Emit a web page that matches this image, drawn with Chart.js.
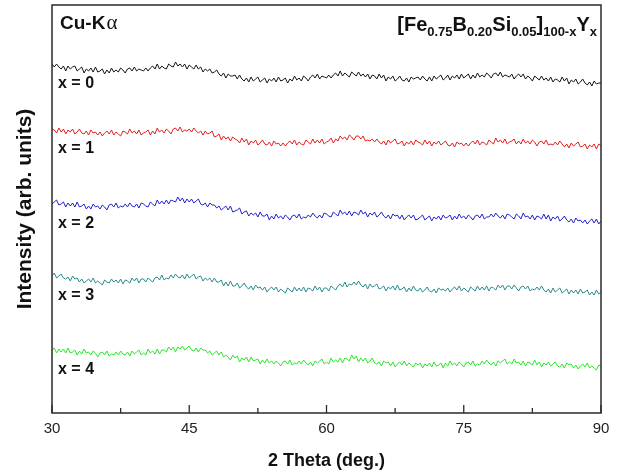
<!DOCTYPE html>
<html>
<head>
<meta charset="utf-8">
<script src="https://cdn.jsdelivr.net/npm/chart.js@4"></script>
<style>
  html, body { margin: 0; padding: 0; background: #fff; }
  #wrap { width: 621px; height: 476px; }
</style>
</head>
<body>
<div id="wrap"><canvas id="xrd"></canvas></div>
<script>
// XRD scans of [Fe0.75B0.20Si0.05]100-x Yx ribbons, Cu-Kα, 2θ = 30..90° in 0.25° steps.
// Intensities are in arbitrary units; each trace sits at its own offset.
const scanStart = 30;
const scanStep = 0.25;
const xTickLabels = ['30', '45', '60', '75', '90'];
const sampleLabels = ['x = 0', 'x = 1', 'x = 2', 'x = 3', 'x = 4'];
const traceColors = ['#151515', '#e41e1e', '#2222cc', '#2a8a8c', '#2ee32e'];

const scanX0 = [
  349,346,349,346, 344,347,342,347,  344,346,347,342, 344,346,340,344,
  342,345,341,346, 341,342,344,339,  343,340,345,341, 343,341,345,343,
  340,344,345,342, 346,342,344,343,  342,345,342,345, 347,344,349,344,
  347,345,344,349, 347,346,351,347,  349,346,349,344, 348,346,344,348,
  344,346,341,344, 342,344,340,341,  343,339,337,340, 335,339,337,337,
  338,334,338,334, 332,335,331,336,  332,334,336,331, 333,335,330,334,
  332,335,331,336, 332,333,335,330,  334,332,337,333, 335,332,337,335,
  332,336,338,335, 339,334,337,336,  335,338,335,338, 340,337,342,337,
  340,338,336,341, 339,337,341,337,  339,336,339,334, 338,337,334,339,
  335,338,332,336, 334,337,332,334,  337,333,332,335, 331,336,334,335,
  336,333,337,334, 332,336,332,337,  334,336,338,333, 335,338,333,337,
  335,338,334,339, 335,337,339,334,  338,335,340,336, 338,336,340,338,
  335,339,340,337, 341,336,338,337,  336,339,334,337, 339,336,339,334,
  337,335,332,337, 335,333,337,333,  335,332,336,331, 334,333,331,336,
  332,335,329,333, 331,334,329,331,  334,330,328,331, 327,332,329,330,
  330
];
const scanX1 = [
  284,283,280,285, 281,284,279,283,  281,284,279,281, 284,280,279,282,
  278,283,280,281, 278,281,277,280,  282,279,283,278, 281,279,277,282,
  281,279,284,280, 282,279,283,278,  280,281,283,278, 282,279,285,281,
  283,280,284,282, 279,284,285,282,  286,281,283,282, 284,281,285,282,
  280,282,278,282, 279,280,282,276,  277,279,273,277, 274,276,272,276,
  274,273,270,275, 271,274,268,272,  270,273,268,270, 273,269,268,271,
  267,272,269,270, 267,270,267,270,  272,269,273,268, 271,269,268,273,
  271,269,274,270, 273,270,274,269,  271,272,275,270, 274,272,277,274,
  276,273,278,276, 273,277,277,274,  277,272,273,272, 274,271,274,271,
  269,272,268,273, 270,272,274,269,  270,272,267,271, 269,272,268,273,
  271,270,268,273, 269,272,267,271,  269,272,268,270, 272,268,267,270,
  266,271,269,270, 267,270,267,270,  272,269,273,268, 271,270,268,273,
  271,269,275,271, 273,270,274,269,  271,272,274,269, 272,269,274,270,
  272,269,273,271, 267,271,272,269,  273,268,269,268, 271,268,272,269,
  266,269,265,270, 267,269,271,266,  267,269,264,268, 266,269,264,269,
  267
];
const scanX2 = [
  209,211,213,208, 209,211,206,210,  207,210,206,211, 206,207,209,204,
  207,204,209,206, 207,204,208,206,  203,208,209,206, 210,205,207,206,
  209,206,210,207, 206,209,205,210,  209,207,206,211, 209,207,213,209,
  212,209,213,209, 213,212,211,216,  212,215,210,214, 211,214,210,212,
  214,209,208,210, 206,210,208,208,  205,207,203,205, 207,203,207,201,
  202,203,205,199, 201,202,197,200,  198,200,196,201, 197,197,199,193,
  197,194,199,195, 197,194,198,196,  193,197,198,195, 199,194,196,195,
  198,196,200,197, 195,198,195,200,  199,197,196,201, 199,197,203,199,
  201,198,202,197, 201,200,198,203,  199,201,196,200, 198,201,196,198,
  201,197,195,198, 194,199,197,198,  194,198,193,196, 198,195,198,193,
  194,196,198,193, 195,197,192,196,  194,197,193,198, 195,196,198,193,
  197,194,199,195, 197,194,198,196,  193,197,198,195, 199,194,196,196,
  199,196,200,197, 195,198,194,199,  198,196,194,199, 197,194,200,196,
  197,194,198,193, 197,196,194,199,  194,198,192,196, 194,197,192,194,
  197,193,191,194, 190,195,192,193,  190,193,189,192, 194,190,194,189,
  192
];
const scanX3 = [
  137,140,135,137, 139,135,134,136,  132,137,134,135, 131,134,130,132,
  134,131,135,130, 132,130,128,133,  131,130,134,131, 133,130,134,129,
  133,132,130,135, 132,135,130,134,  134,131,135,133, 131,135,136,133,
  138,133,135,134, 138,135,139,136,  135,138,134,139, 135,137,139,134,
  136,137,132,135, 133,135,131,135,  131,131,133,127, 131,127,132,127,
  127,130,125,127, 130,126,124,127,  123,128,125,126, 123,126,121,124,
  126,123,126,121, 124,122,120,125,  123,121,126,122, 125,122,126,121,
  125,124,122,127, 123,126,121,125,  125,122,127,125, 123,127,129,126,
  131,126,129,128, 131,128,132,128,  126,129,124,129, 126,127,129,124,
  125,127,122,126, 124,127,123,128,  123,124,126,121, 125,122,127,123,
  122,125,121,123, 126,122,121,124,  120,125,123,124, 122,125,121,124,
  126,123,127,122, 125,123,121,126,  124,122,127,123, 126,123,127,122,
  126,125,123,128, 125,128,123,127,  127,124,128,125, 122,126,127,124,
  127,122,124,123, 126,123,127,123,  121,124,120,125, 121,123,125,120,
  122,124,119,123, 120,123,119,124,  120,121,123,118, 121,118,123,119,
  121
];
const scanX4 = [
  63,65,60,64, 61,64,60,65,  60,61,63,58, 62,59,64,60,
  61,58,62,60, 56,60,61,58,  62,57,59,58, 61,58,62,59,
  58,61,57,62, 59,61,63,58,  60,58,64,60, 62,59,64,59,
  63,63,61,66, 63,66,61,66,  64,67,63,65, 67,63,62,65,
  61,65,63,63, 60,62,58,60,  62,58,61,56, 58,56,53,58,
  55,57,51,55, 53,56,51,56,  52,53,54,49, 53,50,54,50,
  52,49,52,50, 47,51,52,49,  53,48,50,49, 52,49,53,50,
  48,51,47,52, 50,52,54,49,  51,49,55,51, 53,51,55,50,
  55,54,52,58, 54,57,51,55,  52,55,50,52, 55,50,49,51,
  47,52,50,51, 47,51,46,49,  51,48,52,47, 50,48,46,50,
  48,50,45,49, 47,50,46,51,  47,48,50,45, 50,47,52,48,
  50,47,51,49, 46,50,51,48,  52,47,49,48, 52,49,53,50,
  48,51,47,52, 50,52,54,49,  51,49,54,50, 51,48,52,47,
  51,50,48,53, 48,51,46,50,  48,51,47,49, 51,47,46,49,
  45,50,48,49, 45,48,44,47,  49,46,50,45, 47,45,43,48,
  47
];

const scans = [scanX0, scanX1, scanX2, scanX3, scanX4];
const twoTheta = scanX0.map((_, i) => scanStart + i * scanStep);

const FONT = '"Liberation Sans", Arial, Helvetica, sans-serif';

// Frame, inward x ticks, sample tags and the header texts.
const decorPlugin = {
  id: 'decor',
  afterDatasetsDraw(chart) {
    const { ctx, chartArea: a, scales: { x, y } } = chart;
    ctx.save();
    ctx.strokeStyle = '#2a2a2a';
    ctx.lineWidth = 1.5;
    ctx.strokeRect(a.left, a.top, a.width, a.height);

    ctx.lineWidth = 1.3;
    x.ticks.forEach(t => {
      const px = x.getPixelForValue(t.value);
      const len = t.label ? 8 : 5;
      ctx.beginPath();
      ctx.moveTo(px, a.bottom);
      ctx.lineTo(px, a.bottom - len);
      ctx.stroke();
    });

    ctx.fillStyle = '#111';
    ctx.textAlign = 'left';
    ctx.textBaseline = 'middle';
    ctx.font = 'bold 16px ' + FONT;
    chart.data.datasets.forEach((ds, i) => {
      const py = y.getPixelForValue(ds.data[0].y) + 20;
      ctx.fillText(sampleLabels[i], a.left + 6, py);
    });

    // radiation source
    ctx.textBaseline = 'alphabetic';
    ctx.font = 'bold 19px ' + FONT;
    const cu = 'Cu-K';
    ctx.fillText(cu, a.left + 8, a.top + 24);
    const cuW = ctx.measureText(cu).width;
    ctx.font = '21px "Liberation Serif", "Times New Roman", serif';
    ctx.fillText('α', a.left + 8 + cuW + 1, a.top + 24);

    // alloy composition with subscripts
    const parts = [
      ['[Fe', 0], ['0.75', 1], ['B', 0], ['0.20', 1], ['Si', 0], ['0.05', 1],
      [']', 0], ['100-x', 1], ['Y', 0], ['x', 1]
    ];
    const mainFont = 'bold 20px ' + FONT;
    const subFont = 'bold 13px ' + FONT;
    let total = 0;
    const widths = parts.map(([s, sub]) => {
      ctx.font = sub ? subFont : mainFont;
      const w = ctx.measureText(s).width;
      total += w;
      return w;
    });
    let cx = a.right - 4 - total;
    const base = a.top + 26;
    parts.forEach(([s, sub], i) => {
      ctx.font = sub ? subFont : mainFont;
      ctx.fillText(s, cx, sub ? base + 5 : base);
      cx += widths[i];
    });
    ctx.restore();
  }
};

new Chart(document.getElementById('xrd'), {
  type: 'line',
  data: {
    datasets: scans.map((vals, i) => ({
      label: sampleLabels[i],
      data: vals.map((v, k) => ({ x: twoTheta[k], y: v })),
      borderColor: traceColors[i],
      borderWidth: 1,
      pointRadius: 0,
      tension: 0,
      fill: false
    }))
  },
  options: {
    responsive: true,
    maintainAspectRatio: false,
    animation: false,
    layout: { padding: { left: 0, right: 20, top: 5, bottom: 0 } },
    plugins: { legend: { display: false }, tooltip: { enabled: false } },
    scales: {
      x: {
        type: 'linear',
        min: 30,
        max: 90,
        grid: { display: false, drawTicks: false },
        border: { display: false },
        ticks: {
          stepSize: 7.5,
          autoSkip: false,
          maxRotation: 0,
          padding: 7,
          color: '#222',
          font: { family: FONT, size: 15 },
          callback: v => (xTickLabels.includes(String(v)) ? String(v) : '')
        },
        title: {
          display: true,
          text: '2 Theta (deg.)',
          color: '#111',
          font: { family: FONT, size: 18, weight: 'bold' },
          padding: { top: 0, bottom: 4 }
        },
        afterFit: s => { s.height = 63; }
      },
      y: {
        min: 0,
        max: 408,
        grid: { display: false, drawTicks: false },
        border: { display: false },
        ticks: { display: false },
        title: {
          display: true,
          text: 'Intensity (arb. units)',
          color: '#111',
          font: { family: FONT, size: 21, weight: 'bold' },
          padding: { top: 13, bottom: 0 }
        },
        afterFit: s => { s.width = 52; }
      }
    }
  },
  plugins: [decorPlugin]
});
</script>
</body>
</html>
